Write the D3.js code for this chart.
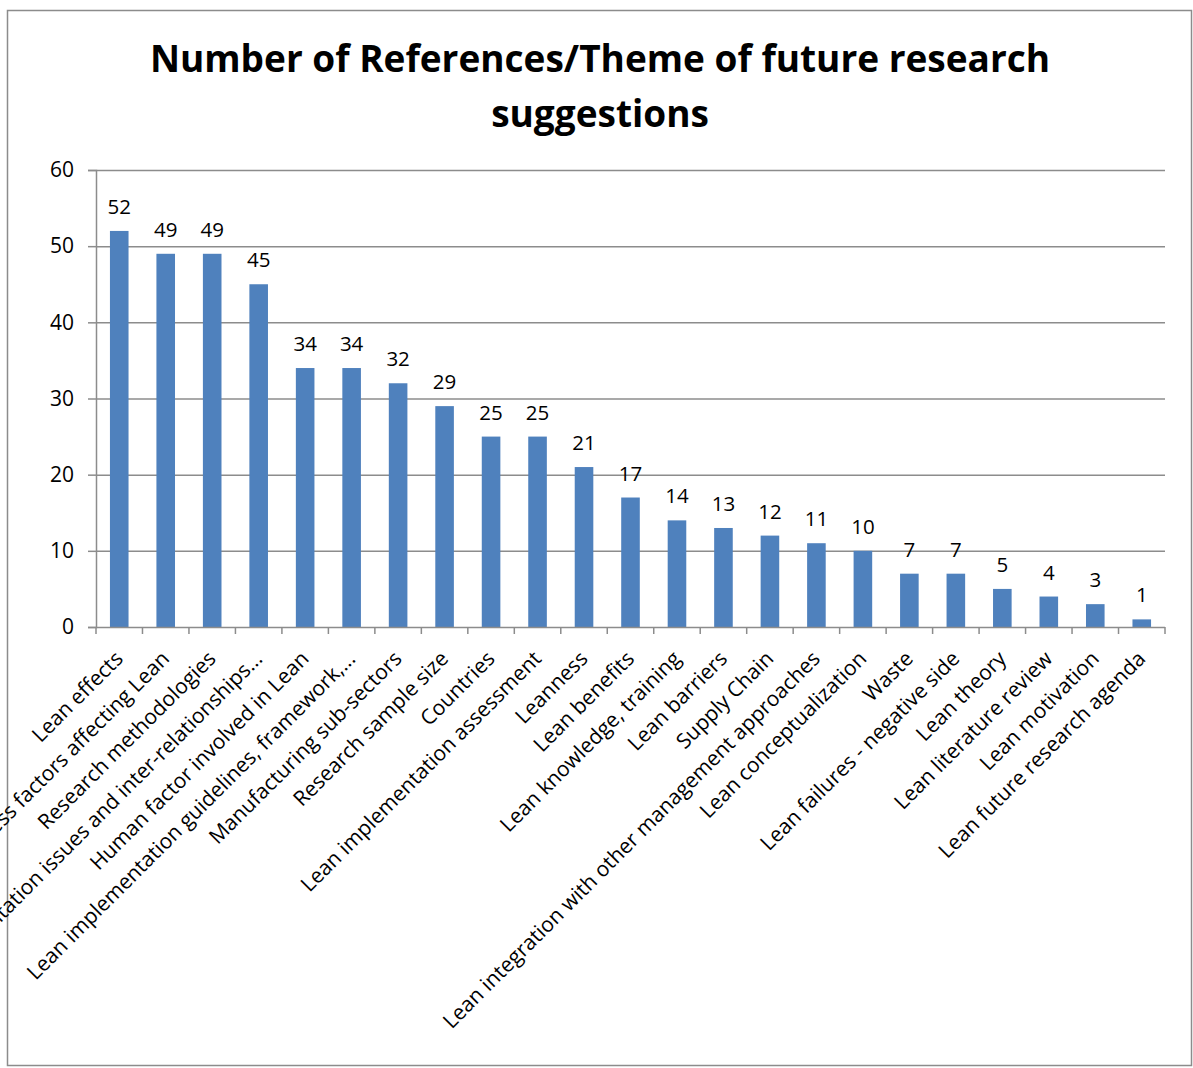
<!DOCTYPE html>
<html>
<head>
<meta charset="utf-8">
<script src="https://cdn.jsdelivr.net/npm/d3@7"></script>
<style>
  html, body { margin: 0; padding: 0; background: #fff; }
  svg { display: block; }
</style>
</head>
<body>
<svg id="chart" width="1193" height="1068"></svg>
<script>
// Themes of future research suggestions and how many references mention each
const themes = [
  "Lean effects",
  "Success factors affecting Lean",
  "Research methodologies",
  "Lean implementation issues and inter-relationships...",
  "Human factor involved in Lean",
  "Lean implementation guidelines, framework,...",
  "Manufacturing sub-sectors",
  "Research sample size",
  "Countries",
  "Lean implementation assessment",
  "Leanness",
  "Lean benefits",
  "Lean knowledge, training",
  "Lean barriers",
  "Supply Chain",
  "Lean integration with other management approaches",
  "Lean conceptualization",
  "Waste",
  "Lean failures - negative side",
  "Lean theory",
  "Lean literature review",
  "Lean motivation",
  "Lean future research agenda"
];
const references = [52, 49, 49, 45, 34, 34, 32, 29, 25, 25, 21, 17, 14, 13, 12, 11, 10, 7, 7, 5, 4, 3, 1];
const yTicks = [0, 10, 20, 30, 40, 50, 60];
const titleLines = ["Number of References/Theme of future research", "suggestions"];

const FONT = "'Open Sans', Lato, 'Liberation Sans', sans-serif";
const svg = d3.select("#chart");

// outer chart frame
svg.append("rect")
  .attr("x", 7.5).attr("y", 10.5)
  .attr("width", 1184).attr("height", 1055)
  .attr("fill", "none").attr("stroke", "#8c8c8c").attr("stroke-width", 1.5);

// title
svg.append("g").selectAll("text")
  .data(titleLines)
  .join("text")
  .attr("x", 600)
  .attr("y", (d, i) => 72 + i * 55)
  .attr("text-anchor", "middle")
  .attr("font-family", FONT)
  .attr("font-weight", "bold")
  .attr("font-size", 37)
  .attr("fill", "#000")
  .text(d => d);

const plot = { left: 96, right: 1165, top: 170, bottom: 627 };

const x = d3.scaleBand()
  .domain(themes)
  .range([plot.left, plot.right])
  .paddingInner(0.6)
  .paddingOuter(0.3);

const y = d3.scaleLinear()
  .domain([0, 60])
  .range([plot.bottom, plot.top]);

// horizontal gridlines
svg.append("g")
  .selectAll("line")
  .data(yTicks.filter(t => t > 0))
  .join("line")
  .attr("x1", plot.left).attr("x2", plot.right)
  .attr("y1", d => y(d) + 0.5).attr("y2", d => y(d) + 0.5)
  .attr("stroke", "#8c8c8c").attr("stroke-width", 1.5);

// y axis
const yAxis = svg.append("g")
  .attr("transform", `translate(${plot.left},0)`)
  .call(d3.axisLeft(y).tickValues(yTicks).tickSize(8).tickPadding(14));
yAxis.select(".domain").attr("stroke", "#8c8c8c").attr("stroke-width", 1.5);
yAxis.selectAll(".tick line").attr("stroke", "#8c8c8c").attr("stroke-width", 1.5);
yAxis.selectAll(".tick text")
  .attr("font-family", FONT).attr("font-size", 21).attr("fill", "#000");

// bars
svg.append("g")
  .selectAll("rect")
  .data(references)
  .join("rect")
  .attr("x", (d, i) => x(themes[i]))
  .attr("y", d => y(d))
  .attr("width", x.bandwidth())
  .attr("height", d => y(0) - y(d))
  .attr("fill", "#4f81bd");

// value labels
svg.append("g")
  .selectAll("text")
  .data(references)
  .join("text")
  .attr("x", (d, i) => x(themes[i]) + x.bandwidth() / 2)
  .attr("y", d => y(d) - 17)
  .attr("text-anchor", "middle")
  .attr("font-family", FONT)
  .attr("font-size", 20.5)
  .attr("fill", "#000")
  .text(d => d);

// x axis baseline and category separators
const step = x.step();
const xStart = plot.left;
svg.append("line")
  .attr("x1", plot.left).attr("x2", plot.right)
  .attr("y1", plot.bottom + 0.5).attr("y2", plot.bottom + 0.5)
  .attr("stroke", "#8c8c8c").attr("stroke-width", 1.5);
svg.append("g")
  .selectAll("line")
  .data(d3.range(themes.length + 1))
  .join("line")
  .attr("x1", i => xStart + i * step).attr("x2", i => xStart + i * step)
  .attr("y1", plot.bottom).attr("y2", plot.bottom + 7)
  .attr("stroke", "#8c8c8c").attr("stroke-width", 1.5);

// rotated category labels
svg.append("g")
  .selectAll("text")
  .data(themes)
  .join("text")
  .attr("transform", d => `translate(${x(d) + x.bandwidth() / 2 + 5},${plot.bottom + 33}) rotate(-45)`)
  .attr("text-anchor", "end")
  .attr("font-family", FONT)
  .attr("font-size", 21)
  .attr("fill", "#000")
  .text(d => d);
</script>
</body>
</html>
